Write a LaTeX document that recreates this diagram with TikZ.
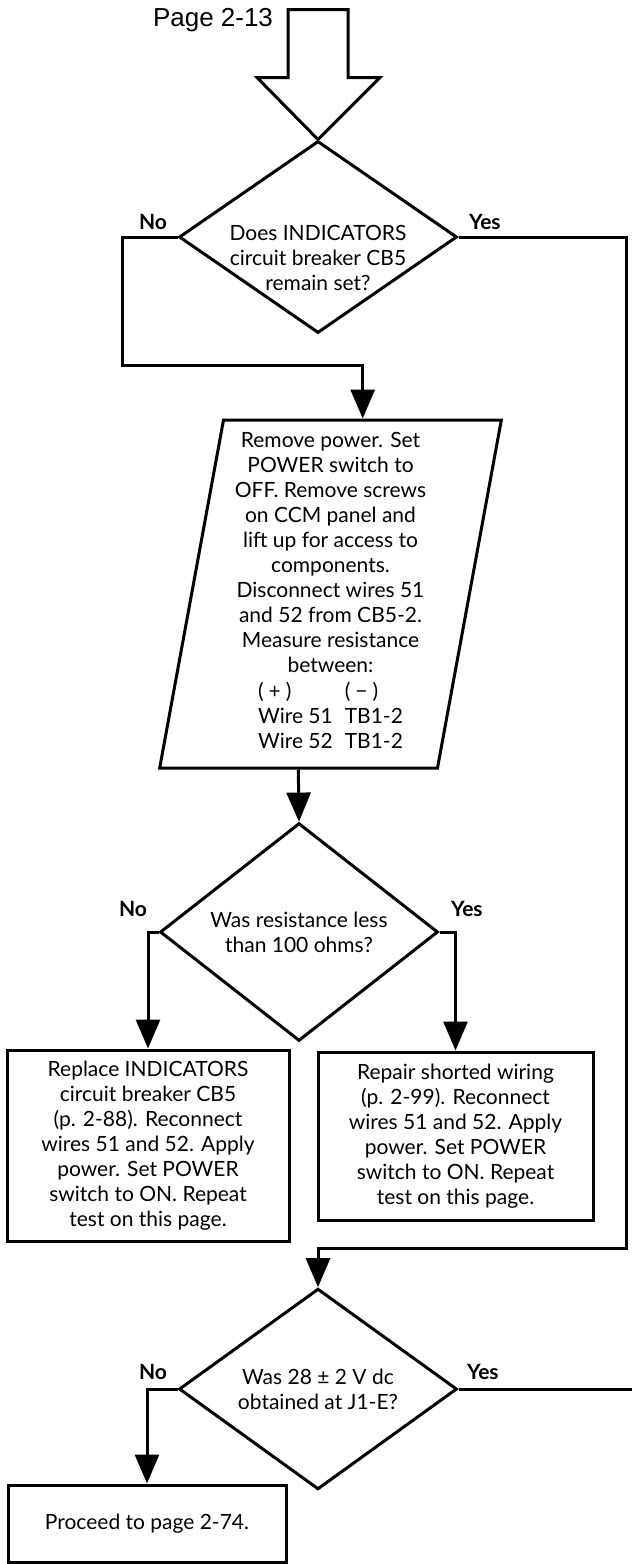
\documentclass[tikz,border=0pt]{standalone}
\usepackage{fontspec}
\setmainfont{Lato}
\newfontfamily\pagefont{Liberation Sans}
\usetikzlibrary{arrows.meta,positioning,calc,shapes.geometric}

\begin{document}
\begin{tikzpicture}[x=0.5pt,y=-0.5pt,>={Triangle[length=14.5pt,width=12pt]},line width=1.5pt,
  font=\fontsize{10.5}{12.5}\selectfont,
  decision/.style={draw,diamond,minimum width=139pt,minimum height=96pt,inner sep=0pt,align=center},
  action/.style={draw,align=center,inner sep=0pt},
  manual/.style={draw,trapezium,trapezium left angle=80,trapezium right angle=100,trapezium stretches=true,
    minimum width=171pt,minimum height=174pt,inner sep=0pt,align=center},
  answer/.style={font=\fontsize{10.5}{12.5}\selectfont\bfseries,inner sep=0pt}]
\useasboundingbox (0,0) rectangle (632,1564);

\node[font=\pagefont\fontsize{13}{15}\selectfont,inner sep=0pt] (page) at (213,20) {Page 2-13};
\node[decision] (cb) at (318,237) {};
\node[align=center,inner sep=0pt] (cbq) at ([yshift=-10.5pt]cb.center) {Does INDICATORS\\circuit breaker CB5\\remain set?};
\node[manual] (meas) at (330.5,594) {Remove power. Set\\POWER switch to\\OFF. Remove screws\\on CCM panel and\\lift up for access to\\components.\\Disconnect wires 51\\and 52 from CB5-2.\\Measure resistance\\between:\\[3pt]
  \begin{tabular}{@{}l@{\hspace{6pt}}l@{}}(\hspace{2.5pt}+\hspace{2.5pt}) & (\hspace{2.5pt}−\hspace{2.5pt})\\Wire 51 & TB1-2\\Wire 52 & TB1-2\end{tabular}};
\node[decision] (res) at (299,932) {Was resistance less\\than 100 ohms?};
\node[action,minimum width=141pt,minimum height=95.5pt] (repcb) at (148,1145.5) {Replace INDICATORS\\circuit breaker CB5\\(p. 2-88). Reconnect\\wires 51 and 52. Apply\\power. Set POWER\\switch to ON. Repeat\\test on this page.};
\node[action,minimum width=137.5pt,minimum height=84pt] (repw) at (455.5,1136) {Repair shorted wiring\\(p. 2-99). Reconnect\\wires 51 and 52. Apply\\power. Set POWER\\switch to ON. Repeat\\test on this page.};
\node[decision] (volt) at (318,1389) {Was 28~±~2 V dc\\obtained at J1-E?};
\node[action,minimum width=139pt,minimum height=38.5pt] (next) at (147,1523.5) {Proceed to page 2-74.};

% yes / no branches
\node[answer,above left=3pt and 4.5pt of cb.west] (cbno) {No};
\node[answer,above right=3pt and 4.5pt of cb.east] (cbyes) {Yes};
\node[answer,above left=7pt and 5pt of res.west] (resno) {No};
\node[answer,above right=7pt and 5pt of res.east] (resyes) {Yes};
\node[answer,above left=4pt and 4.5pt of volt.west] (voltno) {No};
\node[answer,above right=4pt and 3.5pt of volt.east] (voltyes) {Yes};

\coordinate (loop) at (122,365);
\coordinate (back) at (626,1248);
\coordinate (out) at (632,1389);

\draw (cb.north) -- ++(62,-62) -- ++(-32,0) -- ++(0,-68) -- ++(-60,0) -- ++(0,68) -- ++(-31,0) -- cycle;
\draw[->] (cb.west) -| (loop) -| ($(meas.top left corner)!.5!(meas.top right corner)$);
\draw[->] ($(meas.bottom left corner)!.5!(meas.bottom right corner)$) -- (res.north);
\draw[->] (res.west) -| (repcb.north);
\draw[->] (res.east) -| (repw.north);
\draw[->] (cb.east) -| (back) -| (volt.north);
\draw[->] (volt.west) -| (next.north);
\draw (volt.east) -- (out);
\end{tikzpicture}
\end{document}
